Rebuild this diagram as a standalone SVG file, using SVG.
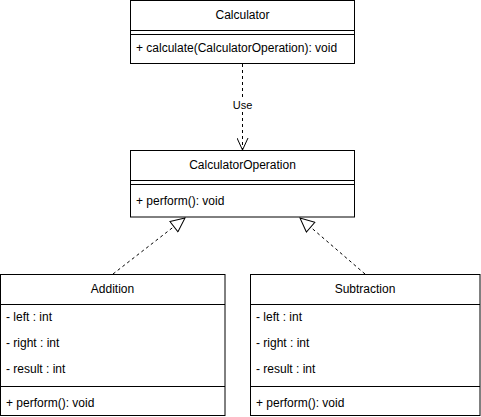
<svg xmlns="http://www.w3.org/2000/svg" width="481" height="417" viewBox="0 0 481 417">
<style>
.box{fill:#fff;stroke:#000;stroke-width:1}
.ln{stroke:#000;stroke-width:1;fill:none}
.t{font-family:"Liberation Sans",Arial,Helvetica,sans-serif;font-size:12px;fill:#000}
.c{text-anchor:middle}
.dash{stroke:#000;stroke-width:1;fill:none;stroke-dasharray:3 3}
</style>
<defs>
<marker id="open" markerUnits="userSpaceOnUse" viewBox="0 0 14 12" refX="13" refY="6" markerWidth="14" markerHeight="12" orient="auto">
<path d="M1,0.5 L13,6 L1,11.5" fill="none" stroke="#000" stroke-width="1"/>
</marker>
<marker id="tri" markerUnits="userSpaceOnUse" viewBox="0 0 16 14" refX="15" refY="7" markerWidth="16" markerHeight="14" orient="auto">
<path d="M1,0.5 L15,7 L1,13.5 Z" fill="#fff" stroke="#000" stroke-width="1"/>
</marker>
</defs>
<g id="connectors">
<line class="dash" x1="242.5" y1="64" x2="242.5" y2="150" marker-end="url(#open)"/>
<rect x="231" y="98" width="23" height="14" fill="#fff"/>
<text class="t c" x="242.5" y="109" font-size="11px" style="font-size:11px">Use</text>
<line class="dash" x1="113" y1="274" x2="185" y2="218" marker-end="url(#tri)"/>
<line class="dash" x1="365" y1="274" x2="300" y2="218" marker-end="url(#tri)"/>
</g>
<g id="Calculator">
<rect class="box" x="130.5" y="0.5" width="224" height="63"/>
<line class="ln" x1="130.5" y1="30.5" x2="354.5" y2="30.5"/>
<line class="ln" x1="130.5" y1="34.5" x2="354.5" y2="34.5"/>
<text class="t c" x="242.5" y="19">Calculator</text>
<text class="t" x="136" y="52">+ calculate(CalculatorOperation): void</text>
</g>
<g id="CalculatorOperation">
<rect class="box" x="130.5" y="150.5" width="224" height="66.5"/>
<line class="ln" x1="130.5" y1="180.5" x2="354.5" y2="180.5"/>
<line class="ln" x1="130.5" y1="184.5" x2="354.5" y2="184.5"/>
<text class="t c" x="242.5" y="169">CalculatorOperation</text>
<text class="t" x="136" y="205">+ perform(): void</text>
</g>
<g id="Addition">
<rect class="box" x="0.5" y="274.5" width="224.5" height="141"/>
<line class="ln" x1="0.5" y1="304.5" x2="225" y2="304.5"/>
<line class="ln" x1="0.5" y1="386.5" x2="225" y2="386.5"/>
<text class="t c" x="112.5" y="293">Addition</text>
<text class="t" x="6" y="321">- left : int</text>
<text class="t" x="6" y="347">- right : int</text>
<text class="t" x="6" y="373">- result : int</text>
<text class="t" x="6" y="407">+ perform(): void</text>
</g>
<g id="Subtraction">
<rect class="box" x="250.5" y="274.5" width="229.5" height="141"/>
<line class="ln" x1="250.5" y1="304.5" x2="480" y2="304.5"/>
<line class="ln" x1="250.5" y1="386.5" x2="480" y2="386.5"/>
<text class="t c" x="365" y="293">Subtraction</text>
<text class="t" x="256" y="321">- left : int</text>
<text class="t" x="256" y="347">- right : int</text>
<text class="t" x="256" y="373">- result : int</text>
<text class="t" x="256" y="407">+ perform(): void</text>
</g>
</svg>
